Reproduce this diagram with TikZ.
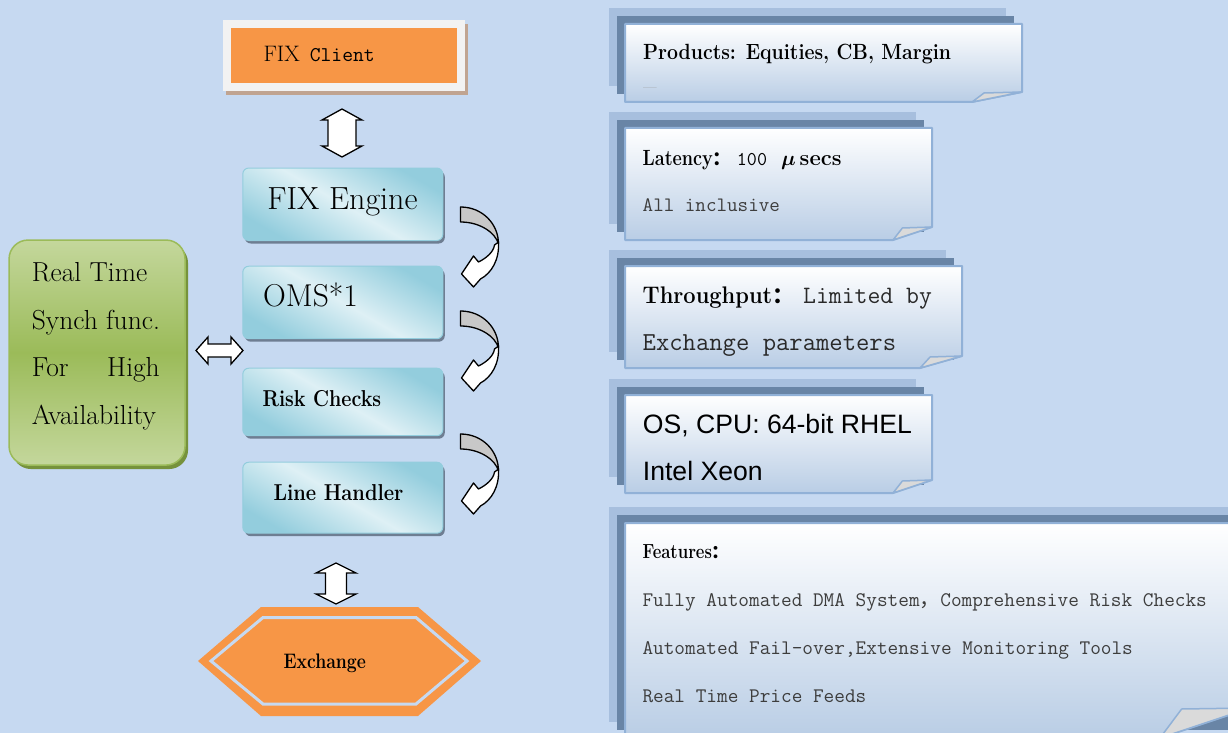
\documentclass[tikz,border=0pt]{standalone}
\usepackage{graphicx}
\usepackage{fontspec}
\newfontfamily\arialf{Liberation Sans}
\newfontfamily\cjkf{Noto Sans CJK SC}
\usetikzlibrary{calc,shadows}
\newcommand{\myfs}[1]{\fontsize{#1}{#1}\selectfont}
\newcommand{\bxt}[3]{\scalebox{#2}[1]{\myfs{#1}\bfseries #3}}
\definecolor{bgc}{RGB}{198,217,241}
\definecolor{orng}{RGB}{247,150,70}
\definecolor{tealA}{RGB}{147,205,221}
\definecolor{tealB}{RGB}{222,240,245}
\definecolor{tealS}{RGB}{110,126,146}
\definecolor{grnA}{RGB}{196,215,156}
\definecolor{grnB}{RGB}{155,187,89}
\definecolor{grnS}{RGB}{118,146,60}
\definecolor{cardB}{RGB}{185,205,229}
\definecolor{cardE}{RGB}{145,177,215}
\definecolor{layL}{RGB}{167,191,222}
\definecolor{layD}{RGB}{105,133,166}
\definecolor{flapC}{RGB}{218,218,218}
\definecolor{clientS}{RGB}{192,164,145}
\definecolor{clientW}{RGB}{242,242,242}
\definecolor{backgray}{RGB}{200,200,200}
\newcommand{\notecard}[6]{%
  \fill[layL] (#1-16,#2-16) rectangle ++(#3,#4);
  \fill[layD] (#1-8,#2-8) rectangle ++(#3,#4);
  \shade[top color=white, bottom color=cardB] (#1,#2) -- (#1+#3,#2) -- (#1+#3,#2+#4-#6) -- (#1+#3-#5,#2+#4) -- (#1,#2+#4) -- cycle;
  \draw[cardE, line width=2pt, line join=round] (#1,#2) -- (#1+#3,#2) -- (#1+#3,#2+#4-#6) -- (#1+#3-#5,#2+#4) -- (#1,#2+#4) -- cycle;
  \filldraw[fill=flapC, draw=cardE, line width=1.5pt, line join=round] (#1+#3-#5,#2+#4) -- (#1+#3-0.76*#5,#2+#4-#6+1) -- (#1+#3,#2+#4-#6) -- cycle;
}
\begin{document}
\begin{tikzpicture}[x=1pt,y=-1pt,
  txt/.style={inner sep=0pt, anchor=base west},
  bluebox/.style={rounded corners=6pt, draw=tealA, line width=1pt,
    top color=tealA, bottom color=tealA, middle color=tealB, shading angle=-30,
    drop shadow={shadow xshift=2pt, shadow yshift=-3pt, fill=tealS, opacity=1},
    minimum width=200pt, inner sep=0pt, anchor=north west},
  greenbox/.style={rounded corners=19pt, draw=grnB, line width=1.5pt,
    top color=grnA, bottom color=grnA, middle color=grnB,
    drop shadow={shadow xshift=3pt, shadow yshift=-4pt, fill=grnS, opacity=1},
    inner sep=0pt, anchor=north west},
  blockarrow/.style={draw=black, fill=white, line width=1.3pt, line join=miter},
  cvarrow/.style={draw=black, line width=1.3pt, line join=round},
  pics/vdarrow/.style n args={4}{code={
    \draw[blockarrow] (0,-#1) -- (#3,-#1+#4) -- (#2,-#1+#4) -- (#2,#1-#4) -- (#3,#1-#4) -- (0,#1)
      -- (-#3,#1-#4) -- (-#2,#1-#4) -- (-#2,-#1+#4) -- (-#3,-#1+#4) -- cycle;}},
  pics/carrow/.style={code={
    \draw[cvarrow, fill=backgray] (0,0) .. controls (22,0) and (38,17) .. (38,37)
      .. controls (35,26) and (20,15) .. (0,15) -- cycle;
    \draw[cvarrow, fill=white] (38,35) .. controls (39,53) and (31,66) .. (20,72) -- (13,80) -- (1,67)
      -- (13,49) -- (18,55) .. controls (26,51) and (33,45) .. (34,38) -- cycle;}}
]
\useasboundingbox (0,0) rectangle (1228,733);
\fill[bgc] (0,0) rectangle (1228,733);

% ---------- right column: note cards ----------
\notecard{625}{24}{397}{78}{50}{10}
\notecard{625}{128}{307}{112}{39}{13}
\notecard{625}{266}{337}{102}{42}{12}
\notecard{625}{395}{307}{98}{39}{13}
\notecard{625}{523}{625}{215}{90}{30}

\node[txt] (c1t) at (643,60) {\bxt{22}{0.885}{Products: Equities, CB, Margin}};
\node[txt, text=black!40] (c1d) at (643,92) {\myfs{14}—};

\node[txt] (c2t) at (642.5,165) {\bxt{22}{0.82}{Latency}{\myfs{19}\bfseries\cjkf ：}\hspace{5pt}{\myfs{19.5}\ttfamily 100}\hspace{14pt}{\myfs{22}\boldmath$\mu$}\hspace{4pt}\bxt{22}{1.0}{secs}};
\node[txt, text=black!76] (c2b) at (642.5,211.7) {\myfs{20.5}\ttfamily All inclusive};

\node[txt] (c3t) at (642.5,303.3) {\bxt{24}{0.91}{Throughput}{\myfs{22}\bfseries\cjkf ：}{\myfs{25}\ttfamily\color{black!84}\hspace{9pt}Limited by}};
\node[txt, text=black!84] (c3b) at (642.5,350) {\myfs{25.9}\ttfamily Exchange parameters};

\node[txt] (c4t) at (642.7,433.3) {\myfs{26.6}\arialf OS, CPU: 64-bit RHEL};
\node[txt] (c4b) at (642.7,480) {\myfs{26.6}\arialf Intel Xeon};

\node[txt] (c5t) at (642.3,558.3) {\bxt{20.4}{0.82}{Features}{\myfs{18}\bfseries\cjkf ：}};
\node[txt, text=black!76] (c5a) at (642.3,606.7) {\myfs{20.7}\ttfamily Fully Automated DMA System{\rmfamily\cjkf ，}Comprehensive Risk Checks};
\node[txt, text=black!76] (c5b) at (642.3,654.3) {\myfs{20.7}\ttfamily Automated Fail-over,Extensive Monitoring Tools};
\node[txt, text=black!76] (c5c) at (642.3,702.3) {\myfs{20.7}\ttfamily Real Time Price Feeds};

% ---------- FIX client ----------
\node[fill=clientW, inner sep=0pt, anchor=north west, minimum width=242pt, minimum height=71pt,
  drop shadow={shadow xshift=3pt, shadow yshift=-4pt, fill=clientS, opacity=1}] (client) at (223,20) {};
\node[fill=orng, inner sep=0pt, anchor=north west, minimum width=226pt, minimum height=54.5pt] (clientin) at (231,28) {};
\node[txt] (clientt) at (263.3,62) {\myfs{22.4}FIX\hspace{10pt}\myfs{21}\ttfamily Client};

% ---------- processing chain ----------
\node[bluebox, minimum height=72.5pt] (engine) at (242.3,167.5) {};
\node[bluebox, minimum height=72.5pt] (oms) at (242.3,265.7) {};
\node[bluebox, minimum height=67.5pt] (risk) at (242.3,367.7) {};
\node[bluebox, minimum height=71pt] (lineh) at (242.3,461.7) {};

\node[txt, anchor=base] (enginet) at (342.5,209) {\myfs{32}FIX Engine};
\node[txt] (omst) at (263,306.7) {\myfs{31.6}OMS*1};
\node[txt] (riskt) at (262.3,406) {\bxt{23}{0.857}{Risk Checks}};
\node[txt] (lineht) at (273.3,500) {\bxt{23}{0.874}{Line Handler}};

\pic at (342,133) {vdarrow={24}{14}{20}{11}};
\pic at (460.5,207) {carrow};
\pic at (460.5,311) {carrow};
\pic at (460.5,434) {carrow};
\pic at (336,583.5) {vdarrow={20.5}{10.5}{20}{10}};

% ---------- high availability ----------
\node[greenbox, minimum width=176pt, minimum height=225pt] (ha) at (8.3,239.3) {};
\node[txt] (ha1) at (31.7,281.7) {\myfs{27.5}Real Time};
\node[txt] (ha2) at (31.7,329) {\myfs{27.5}Synch func.};
\node[txt] (ha3) at (31.7,376.7) {\myfs{27.5}For};
\node[txt, anchor=base east] (ha3b) at (160,376.7) {\myfs{27.5}High};
\node[txt] (ha4) at (31.7,424.3) {\myfs{27.5}Availability};
\pic[rotate=90] at (219.5,350.5) {vdarrow={23.5}{6.5}{13.5}{12}};

% ---------- exchange ----------
\fill[orng] (198,661) -- (261,607) -- (418,607) -- (481,661) -- (418,716) -- (261,716) -- cycle;
\draw[bgc, line width=3pt, fill=orng, line join=miter] (211,661) -- (263,617.5) -- (416,617.5) -- (467,661) -- (416,704) -- (263,704) -- cycle;
\node[txt] (exch) at (283.3,668.3) {\bxt{21}{0.84}{Exchange}};
\end{tikzpicture}
\end{document}
